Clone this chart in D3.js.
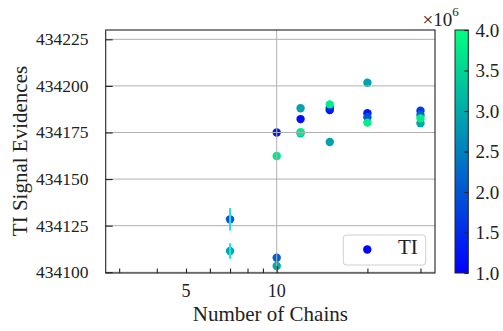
<!DOCTYPE html>
<html>
<head>
<meta charset="utf-8">
<script src="https://cdn.jsdelivr.net/npm/d3@7"></script>
<style>
  body { margin: 0; background: #fff; }
  text { font-family: "Liberation Serif", "DejaVu Serif", serif; fill: #222; }
</style>
</head>
<body>
<div id="vis"></div>
<script>
// chains used, evidence estimate, error, and the value behind the colour
const chains    = [10, 10, 10, 10, 7, 7, 12, 12, 12, 12, 15, 15, 15, 15, 20, 20, 20, 20, 30, 30, 30, 30];
const evidences = [434103.4, 434107.8, 434175.0, 434162.4, 434111.4, 434128.4,
                   434188.0, 434174.6, 434182.2, 434175.1,
                   434169.9, 434187.0, 434188.2, 434190.1,
                   434201.7, 434185.3, 434183.2, 434180.3,
                   434180.0, 434186.7, 434184.4, 434182.6];
const errors    = [0, 0, 0, 0, 4.2, 6.0, 0, 0, 0, 0, 0, 0, 0, 0, 0, 0, 0, 0, 0, 0, 0, 0];
const colorVals = [3.0e6, 2.1e6, 1.3e6, 3.7e6, 3.0e6, 2.0e6,
                   2.9e6, 3.0e6, 1.2e6, 3.8e6,
                   2.9e6, 1.3e6, 1.4e6, 3.8e6,
                   2.9e6, 1.3e6, 2.0e6, 3.8e6,
                   3.0e6, 1.7e6, 2.2e6, 3.8e6];

const yTicks = [434100, 434125, 434150, 434175, 434200, 434225];
const xMinorTicks = [3, 4, 5, 6, 7, 8, 9, 20, 30];
const xMajorTicks = [10];
const xLabelled = [5, 10];
const cbarTicks = [1.0, 1.5, 2.0, 2.5, 3.0, 3.5, 4.0];

const width = 503, height = 331;
const mLeft = 105.7, mRight = 435, mTop = 30, mBottom = 273;

const svg = d3.select("#vis").append("svg")
    .attr("width", width)
    .attr("height", height);

const x = d3.scaleLog().domain([2.707, 33.52]).range([mLeft, mRight]);
const y = d3.scaleLinear().domain([434099.6, 434230]).range([mBottom, mTop]);

// matplotlib "winter"
function winter(v) {
    var t = Math.max(0, Math.min(1, (v - 1e6) / 3e6));
    return d3.rgb(0, Math.round(255 * t), Math.round(255 - 127.5 * t)).toString();
}

const data = chains.map(function (c, i) {
    return {n: c, ev: evidences[i], err: errors[i], c: colorVals[i]};
});

// points (drawn under the grid like matplotlib's default)
svg.append("g").selectAll("circle")
    .data(data)
    .enter().append("circle")
    .attr("cx", function (d) { return x(d.n); })
    .attr("cy", function (d) { return y(d.ev); })
    .attr("r", 4.2)
    .attr("fill", function (d) { return winter(d.c); });

// grid
const grid = svg.append("g").attr("stroke", "#b0b0b0").attr("stroke-width", 1);
grid.selectAll(".hg").data(yTicks).enter().append("line")
    .attr("x1", mLeft).attr("x2", mRight)
    .attr("y1", function (d) { return y(d); })
    .attr("y2", function (d) { return y(d); });
grid.selectAll(".vg").data(xMajorTicks).enter().append("line")
    .attr("x1", function (d) { return x(d); })
    .attr("x2", function (d) { return x(d); })
    .attr("y1", mTop).attr("y2", mBottom);

// error bars
svg.append("g").selectAll("line")
    .data(data.filter(function (d) { return d.err > 0; }))
    .enter().append("line")
    .attr("x1", function (d) { return x(d.n); })
    .attr("x2", function (d) { return x(d.n); })
    .attr("y1", function (d) { return y(d.ev - d.err); })
    .attr("y2", function (d) { return y(d.ev + d.err); })
    .attr("stroke", "#20e0ee")
    .attr("stroke-width", 2);

// axes, ticks inward
const yAxis = svg.append("g")
    .attr("transform", "translate(" + mLeft + ",0)")
    .call(d3.axisRight(y).tickValues(yTicks).tickSize(7).tickFormat(""));
const xMinor = svg.append("g")
    .attr("transform", "translate(0," + mBottom + ")")
    .call(d3.axisTop(x).tickValues(xMinorTicks).tickSize(4.5).tickFormat(""));
const xMajor = svg.append("g")
    .attr("transform", "translate(0," + mBottom + ")")
    .call(d3.axisTop(x).tickValues(xMajorTicks).tickSize(7).tickFormat(""));
[yAxis, xMinor, xMajor].forEach(function (g) {
    g.select(".domain").remove();
    g.selectAll(".tick line").attr("stroke", "#222").attr("stroke-width", 1.1);
});

svg.append("g").selectAll("text")
    .data(yTicks)
    .enter().append("text")
    .attr("x", 88.5)
    .attr("y", function (d) { return y(d) + 6; })
    .attr("text-anchor", "end")
    .attr("font-size", 17.5)
    .text(function (d) { return d; });

svg.append("g").selectAll("text")
    .data(xLabelled)
    .enter().append("text")
    .attr("x", function (d) { return x(d); })
    .attr("y", 297)
    .attr("text-anchor", "middle")
    .attr("font-size", 18)
    .text(function (d) { return d; });

svg.append("rect")
    .attr("x", mLeft).attr("y", mTop)
    .attr("width", mRight - mLeft).attr("height", mBottom - mTop)
    .attr("fill", "none")
    .attr("stroke", "#222")
    .attr("stroke-width", 1.1);

svg.append("text")
    .attr("x", (mLeft + mRight) / 2)
    .attr("y", 321)
    .attr("text-anchor", "middle")
    .attr("font-size", 21)
    .text("Number of Chains");

svg.append("text")
    .attr("transform", "translate(27," + 151 + ") rotate(-90)")
    .attr("text-anchor", "middle")
    .attr("font-size", 21)
    .text("TI Signal Evidences");

// legend
const legend = svg.append("g");
legend.append("rect")
    .attr("x", 343.3).attr("y", 235)
    .attr("width", 82.4).attr("height", 30)
    .attr("rx", 3)
    .attr("fill", "#fff").attr("fill-opacity", 0.8)
    .attr("stroke", "#d0d0d0");
legend.append("circle")
    .attr("cx", 367.3).attr("cy", 249.5)
    .attr("r", 4.2)
    .attr("fill", winter(1e6));
legend.append("text")
    .attr("x", 398).attr("y", 254)
    .attr("font-size", 21)
    .text("TI");

// colorbar
const cbX = 455, cbW = 13.3;
const cb = d3.scaleLinear().domain([1.0, 4.0]).range([mBottom, mTop]);
const defs = svg.append("defs");
const grad = defs.append("linearGradient")
    .attr("id", "winter")
    .attr("x1", 0).attr("y1", 1).attr("x2", 0).attr("y2", 0);
grad.selectAll("stop")
    .data(d3.range(0, 1.0001, 0.1))
    .enter().append("stop")
    .attr("offset", function (d) { return d; })
    .attr("stop-color", function (d) { return winter(1e6 + d * 3e6); });
svg.append("rect")
    .attr("x", cbX).attr("y", mTop)
    .attr("width", cbW).attr("height", mBottom - mTop)
    .attr("fill", "url(#winter)")
    .attr("stroke", "#222")
    .attr("stroke-width", 1);
const cbAxis = svg.append("g")
    .attr("transform", "translate(" + (cbX + cbW) + ",0)")
    .call(d3.axisLeft(cb).tickValues(cbarTicks).tickSize(4).tickFormat(""));
cbAxis.select(".domain").remove();
cbAxis.selectAll(".tick line").attr("stroke", "#222").attr("stroke-width", 1.1);
svg.append("g").selectAll("text")
    .data(cbarTicks)
    .enter().append("text")
    .attr("x", 475.5)
    .attr("y", function (d) { return cb(d) + 6.5; })
    .attr("font-size", 19)
    .text(function (d) { return d.toFixed(1); });

const mult = svg.append("text")
    .attr("x", 422.5).attr("y", 26)
    .attr("font-size", 19);
mult.append("tspan").text("\u00d710");
mult.append("tspan").attr("dy", -10).attr("font-size", 13).text("6");
</script>
</body>
</html>
